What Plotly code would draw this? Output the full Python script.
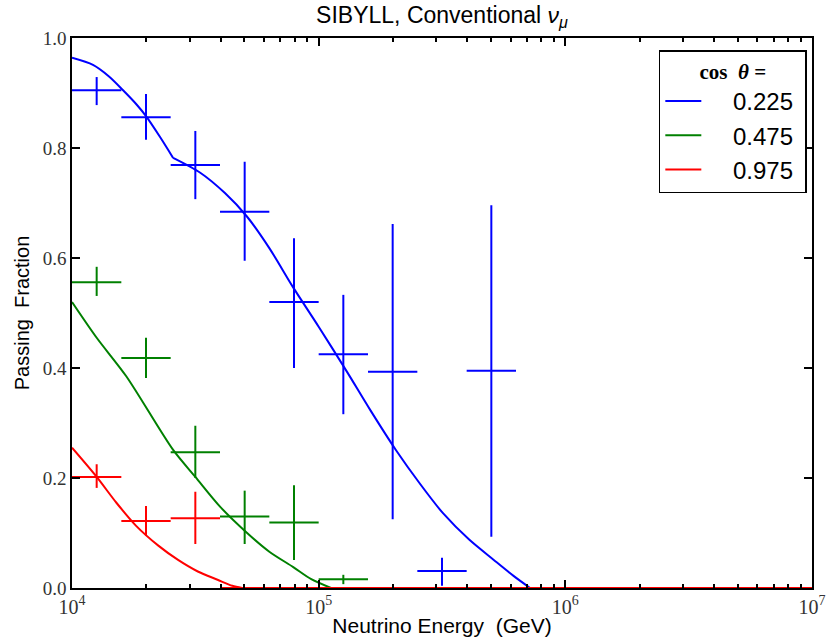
import plotly.graph_objects as go

# ---- data ----
labels = ["0.225", "0.475", "0.975"]
colors = ["#0000ff", "#008000", "#ff0000"]

# log10 energy bin edges for each point (lower, upper)
blue_bin_lo = [4.0, 4.2, 4.4, 4.6, 4.8, 5.0, 5.2, 5.4, 5.6]
blue_bin_hi = [4.2, 4.4, 4.6, 4.8, 5.0, 5.2, 5.4, 5.6, 5.8]
blue_y = [0.905, 0.856, 0.769, 0.684, 0.520, 0.425, 0.393, 0.031, 0.395]
blue_up = [0.929, 0.898, 0.831, 0.775, 0.636, 0.533, 0.662, 0.055, 0.696]
blue_dn = [0.878, 0.815, 0.707, 0.595, 0.400, 0.316, 0.125, 0.004, 0.093]

green_bin_lo = [4.0, 4.2, 4.4, 4.6, 4.8, 5.0, 5.2]
green_bin_hi = [4.2, 4.4, 4.6, 4.8, 5.0, 5.2, 5.4]
green_y = [0.556, 0.418, 0.247, 0.130, 0.119, 0.016, 0.0]
green_up = [0.584, 0.455, 0.295, 0.177, 0.187, 0.024, 0.0]
green_dn = [0.531, 0.382, 0.200, 0.080, 0.051, 0.007, 0.0]

red_bin_lo = [4.0, 4.2, 4.4, 4.6, 4.8]
red_bin_hi = [4.2, 4.4, 4.6, 4.8, 5.0]
red_y = [0.202, 0.122, 0.127, 0.0, 0.0]
red_up = [0.225, 0.149, 0.175, 0.0, 0.0]
red_dn = [0.182, 0.095, 0.080, 0.0, 0.0]

# curves (log10 energy, fraction); blue has a kink near 10^4.41
blue_cx_a = [4.0, 4.085, 4.15, 4.207, 4.26, 4.30, 4.357, 4.41]
blue_cy_a = [0.964, 0.951, 0.930, 0.905, 0.880, 0.858, 0.820, 0.782]
blue_cx_b = [4.41, 4.52, 4.62, 4.71, 4.80, 4.896, 5.0, 5.115, 5.21, 5.313, 5.41,
             5.504, 5.61, 5.71, 5.79, 5.857]
blue_cy_b = [0.782, 0.755, 0.718, 0.675, 0.618, 0.547, 0.475, 0.393, 0.323, 0.251, 0.190,
             0.136, 0.088, 0.051, 0.022, 0.0]
blue_cx_c = [5.857, 7.0]
blue_cy_c = [0.0, 0.0]
green_cx = [4.0, 4.1, 4.22, 4.41, 4.5, 4.6, 4.71, 4.8, 4.897, 4.97, 5.05]
green_cy = [0.520, 0.455, 0.385, 0.251, 0.202, 0.148, 0.100, 0.066, 0.038, 0.016, 0.0]
green_cx_c = [5.05, 7.0]
green_cy_c = [0.0, 0.0]
red_cx = [4.0, 4.1, 4.18, 4.26, 4.35, 4.43, 4.51, 4.59, 4.65, 4.69]
red_cy = [0.255, 0.202, 0.155, 0.113, 0.077, 0.051, 0.030, 0.015, 0.004, 0.0]
red_cx_c = [4.69, 7.0]
red_cy_c = [0.0, 0.0]

x_major = [1e4, 1e5, 1e6, 1e7]
x_major_text = ["10<sup>4</sup>", "10<sup>5</sup>", "10<sup>6</sup>", "10<sup>7</sup>"]
y_ticks = [0.0, 0.2, 0.4, 0.6, 0.8, 1.0]
y_tick_text = ["0.0", "0.2", "0.4", "0.6", "0.8", "1.0"]

fig = go.Figure()

points = [
    (blue_bin_lo, blue_bin_hi, blue_y, blue_up, blue_dn),
    (green_bin_lo, green_bin_hi, green_y, green_up, green_dn),
    (red_bin_lo, red_bin_hi, red_y, red_up, red_dn),
]

# error-bar crosses
for (lo, hi, y, up, dn), c in zip(points, colors):
    xc = [10 ** ((a + b) / 2) for a, b in zip(lo, hi)]
    fig.add_trace(go.Scatter(
        x=xc, y=y, mode="markers", marker=dict(size=0.1, color=c), showlegend=False,
        hoverinfo="skip",
        error_x=dict(type="data", symmetric=False,
                     array=[10 ** b - x for b, x in zip(hi, xc)],
                     arrayminus=[x - 10 ** a for a, x in zip(lo, xc)],
                     width=0, thickness=2, color=c),
        error_y=dict(type="data", symmetric=False,
                     array=[u - v for u, v in zip(up, y)],
                     arrayminus=[v - d for v, d in zip(y, dn)],
                     width=0, thickness=2, color=c),
    ))

# curves
curve_sets = [
    [(blue_cx_a, blue_cy_a), (blue_cx_b, blue_cy_b), (blue_cx_c, blue_cy_c)],
    [(green_cx, green_cy), (green_cx_c, green_cy_c)],
    [(red_cx, red_cy), (red_cx_c, red_cy_c)],
]
nb = "\u00a0"
for segs, c, lab in zip(curve_sets, colors, labels):
    for i, (cx, cy) in enumerate(segs):
        fig.add_trace(go.Scatter(
            x=[10 ** v for v in cx], y=cy, mode="lines",
            name=nb * 4 + lab + nb, legendgroup=lab, showlegend=(i == 0),
            line=dict(color=c, width=2, shape="spline", smoothing=0.8),
        ))

minor_vals = [m * 10 ** d for d in range(4, 7) for m in range(2, 10)]

fig.update_layout(
    width=827, height=643,
    margin=dict(l=72, r=15, t=38, b=55, autoexpand=False),
    paper_bgcolor="white", plot_bgcolor="white",
    title=dict(text="SIBYLL, Conventional <i>ν<sub>μ</sub></i>", x=0.5, xref="paper",
               xanchor="center", y=0.976, yanchor="middle",
               font=dict(family="Liberation Sans", size=23, color="black")),
    font=dict(family="Liberation Sans", color="black"),
    legend=dict(
        x=0.793, y=0.978, xanchor="left", yanchor="top",
        bordercolor="black", borderwidth=1.5, bgcolor="white",
        font=dict(family="Liberation Sans", size=24, color="black"),
        title=dict(text="<b>cos " + nb + "<i>θ</i>" + nb + "=</b>", side="top center",
                   font=dict(family="Liberation Serif", size=21, color="black")),
        tracegroupgap=0, itemwidth=36,
    ),
    xaxis=dict(
        type="log", range=[4, 7], automargin=False,
        tickmode="array", tickvals=x_major, ticktext=x_major_text,
        ticks="inside", ticklen=8, tickwidth=1.5, tickcolor="black",
        minor=dict(tickmode="array", tickvals=minor_vals, ticks="inside",
                   ticklen=4, tickwidth=1.5, tickcolor="black", showgrid=False),
        showline=True, linecolor="black", linewidth=1.5, mirror="ticks",
        showgrid=False, zeroline=False,
        tickfont=dict(family="Liberation Serif", size=20, color="#333"),
        title=dict(text=nb * 3 + "Neutrino Energy" + nb + " (GeV)", standoff=2,
                   font=dict(family="Liberation Sans", size=21, color="black")),
    ),
    yaxis=dict(
        range=[0, 1.0], automargin=False,
        tickmode="array", tickvals=y_ticks, ticktext=y_tick_text,
        ticks="inside", ticklen=8, tickwidth=1.5, tickcolor="black",
        showline=True, linecolor="black", linewidth=1.5, mirror="ticks",
        showgrid=False, zeroline=False,
        tickfont=dict(family="Liberation Serif", size=19, color="#333"),
        title=dict(text="Passing" + nb + " Fraction", standoff=8,
                   font=dict(family="Liberation Sans", size=20, color="black")),
    ),
)

fig.write_html("out.html")
